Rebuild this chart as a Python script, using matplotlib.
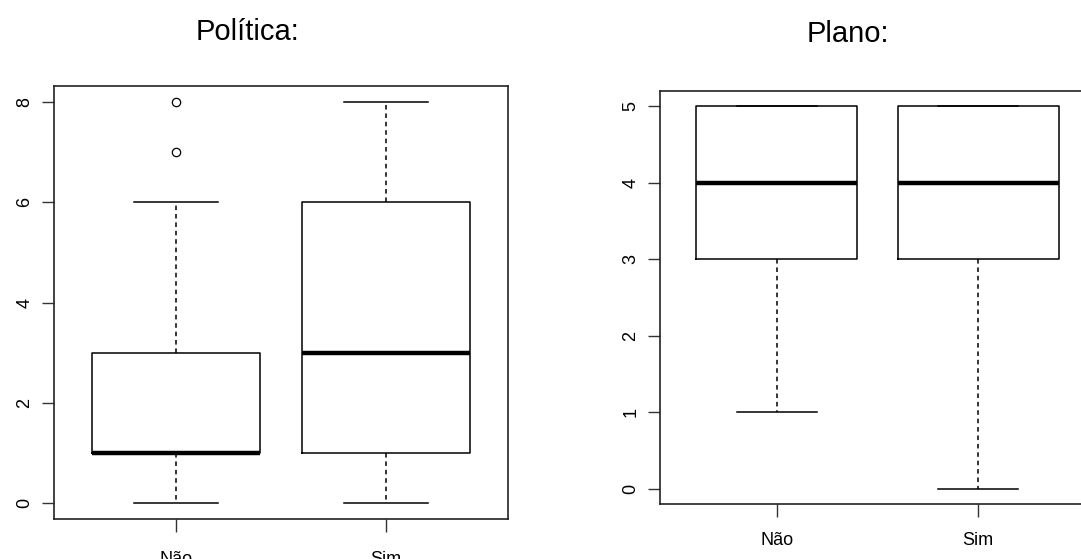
import numpy as np
import matplotlib
matplotlib.use('Agg')
from matplotlib import pyplot as plt

plt.rcParams['font.family'] = ['Liberation Sans', 'DejaVu Sans']

GROUPS = ['Não', 'Sim']

# Política: box stats
POL_WHISLO = [0, 0]
POL_Q1 = [1, 1]
POL_MED = [1, 3]
POL_Q3 = [3, 6]
POL_WHISHI = [6, 8]
POL_FLIERS = [[7, 8], []]
POL_TICKS = [0, 2, 4, 6, 8]

# Plano:
PLA_WHISLO = [1, 0]
PLA_Q1 = [3, 3]
PLA_MED = [4, 4]
PLA_Q3 = [5, 5]
PLA_WHISHI = [5, 5]
PLA_FLIERS = [[], []]
PLA_TICKS = [0, 1, 2, 3, 4, 5]


def make_stats(whislo, q1, med, q3, whishi, fliers):
    stats = []
    for i in range(len(GROUPS)):
        stats.append(dict(label=GROUPS[i], whislo=whislo[i], q1=q1[i], med=med[i],
                          q3=q3[i], whishi=whishi[i], fliers=fliers[i]))
    return stats


def r_boxplot(ax, stats, yticks, label_pad):
    ax.bxp(stats, positions=[1, 2], widths=0.8, showfliers=True,
           boxprops=dict(color='black', linewidth=1.1),
           medianprops=dict(color='black', linewidth=3.2, solid_capstyle='butt'),
           whiskerprops=dict(color='black', linewidth=1.1, linestyle=(0, (3, 2.5))),
           capprops=dict(color='black', linewidth=1.1),
           capwidths=0.4,
           flierprops=dict(marker='o', markersize=6, markerfacecolor='none',
                           markeredgecolor='black', markeredgewidth=0.9))
    lo, hi = min(yticks), max(yticks)
    ext = (hi - lo) * 0.04  # R's default axis padding
    ax.set_ylim(lo - ext, hi + ext)
    ax.set_xlim(0.42, 2.58)
    ax.set_yticks(yticks)
    ax.set_yticklabels([str(t) for t in yticks], rotation=90, va='center', fontsize=13)
    ax.set_xticks([1, 2])
    ax.set_xticklabels(GROUPS, fontsize=13)
    ax.tick_params(axis='both', length=9, width=1.0, color='#333333')
    ax.tick_params(axis='y', pad=6)
    ax.tick_params(axis='x', pad=label_pad)
    for s in ax.spines.values():
        s.set_linewidth(1.2)
        s.set_color('#222222')


fig = plt.figure(figsize=(10.81, 5.59), dpi=100)

ax1 = fig.add_axes([54 / 1081, 40 / 559, 454 / 1081, 433 / 559])
r_boxplot(ax1, make_stats(POL_WHISLO, POL_Q1, POL_MED, POL_Q3, POL_WHISHI, POL_FLIERS),
          POL_TICKS, 14)

# right panel runs past the figure edge, as in the original screenshot
ax2 = fig.add_axes([660 / 1081, 55 / 559, 435 / 1081, 413 / 559])
r_boxplot(ax2, make_stats(PLA_WHISLO, PLA_Q1, PLA_MED, PLA_Q3, PLA_WHISHI, PLA_FLIERS),
          PLA_TICKS, 11)

fig.text(247 / 1081, 1 - 32 / 559, 'Política:', ha='center', va='center', fontsize=21)
fig.text(848 / 1081, 1 - 34 / 559, 'Plano:', ha='center', va='center', fontsize=21)

fig.savefig('out.png', dpi=100)
